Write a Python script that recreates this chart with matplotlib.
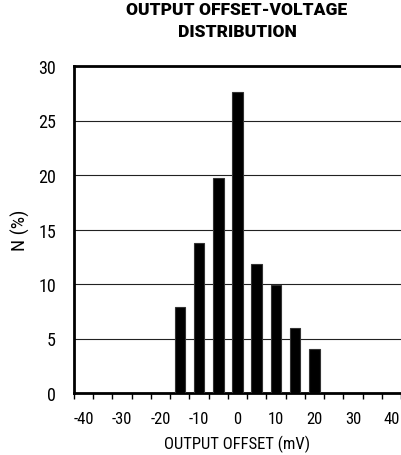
import matplotlib
matplotlib.use('Agg')
import matplotlib.pyplot as plt

# output offset bins (mV) and percentage of units in each bin
offset_bins = [-40, -35, -30, -25, -20, -15, -10, -5, 0, 5, 10, 15, 20, 25, 30, 35, 40]
percent = [0, 0, 0, 0, 0, 7.9, 13.8, 19.7, 27.6, 11.8, 9.9, 6.0, 4.0, 0, 0, 0, 0]
x_labels = ['-40', '-30', '-20', '-10', '0', '10', '20', '30', '40']
y_ticks = [0, 5, 10, 15, 20, 25, 30]
title_lines = ['OUTPUT OFFSET-VOLTAGE', 'DISTRIBUTION']

# narrow sans like the datasheet; falls through to whatever is installed
plt.rcParams['font.family'] = ['Roboto Condensed', 'Archivo Narrow', 'Liberation Sans Narrow', 'DejaVu Sans']

fig = plt.figure(figsize=(4.01, 4.56), dpi=100)
ax = fig.add_axes([74 / 401, 1 - 394 / 456, 327 / 401, 327 / 456])

idx = list(range(len(offset_bins)))
ax.bar(idx, percent, width=0.55, color='black', edgecolor='#333333', linewidth=0.8, zorder=3)

ax.set_xlim(-0.5, len(offset_bins) - 0.5)
ax.set_ylim(0, 30)
ax.set_yticks(y_ticks)
ax.yaxis.grid(True, color='#222222', linewidth=0.8, zorder=0)
ax.tick_params(axis='y', length=0, labelsize=13, pad=13)

# labels on every other category, small ticks at category boundaries
ax.set_xticks(idx[::2])
ax.set_xticklabels(x_labels)
ax.set_xticks([i - 0.5 for i in idx] + [len(idx) - 0.5], minor=True)
ax.tick_params(axis='x', which='major', length=0, labelsize=12, pad=13)
ax.tick_params(axis='x', which='minor', length=4, width=1, direction='out')

for side in ['left', 'bottom', 'top']:
    ax.spines[side].set_linewidth(2)
ax.spines['right'].set_visible(False)

ax.set_ylabel('N (%)', fontsize=14, labelpad=6)
ax.set_xlabel('OUTPUT OFFSET (mV)', fontsize=12, labelpad=6)

# title: wider black face, each line placed on its own baseline
for line, base in zip(title_lines, [14.7, 37.3]):
    fig.text(237 / 401, 1 - base / 456, line, ha='center', va='baseline',
             fontsize=12.5, fontweight='heavy', family=['Roboto', 'DejaVu Sans'])

fig.savefig('out.png', dpi=100)
